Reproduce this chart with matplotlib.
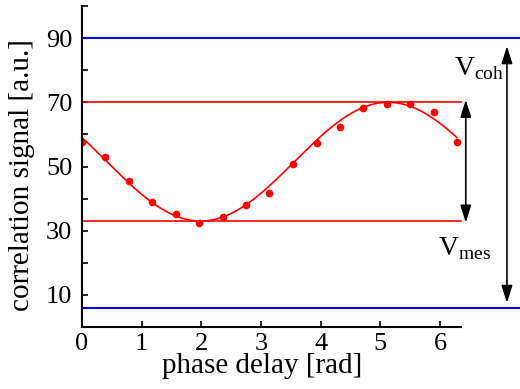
import numpy as np
import matplotlib
matplotlib.use("Agg")
import matplotlib.pyplot as plt

# data
phase = [0.0, 0.39, 0.79, 1.18, 1.57, 1.96, 2.36, 2.75, 3.14, 3.53, 3.93, 4.32, 4.71, 5.11, 5.50, 5.89, 6.28]
signal = [57.7, 52.9, 45.6, 38.8, 35.2, 32.5, 34.2, 37.9, 41.8, 50.7, 57.2, 62.4, 68.2, 69.4, 69.6, 67.1, 57.7]

# fitted sinusoid parameters
fit_offset = 51.5
fit_amp = 18.5
fit_phase = 5.13

v_max = 70
v_min = 33
v_coh_top = 90
v_coh_bot = 6

yticks = list(range(0, 101, 10))
yticklabels = ['' if (t // 10) % 2 == 0 else str(t) for t in yticks]
xticks = [0, 1, 2, 3, 4, 5, 6]

plt.rcParams['font.family'] = ['Liberation Serif', 'DejaVu Serif']
plt.rcParams['mathtext.fontset'] = 'custom'
plt.rcParams['mathtext.rm'] = 'Liberation Serif'

fig = plt.figure(figsize=(5.2, 3.89), dpi=100)
ax = fig.add_axes([82/520, 1-327/389, (461-82)/520, (327-6)/389])
ax.set_xlim(0, 6.35)
ax.set_ylim(0, 100)

xf = np.linspace(0, 6.28, 300)
yf = fit_offset + fit_amp * np.cos(xf - fit_phase)
ax.plot(xf, yf, color='red', lw=1.2)
ax.plot(phase, signal, 'o', color='red', ms=4.5)

ax.plot([0, 6.35], [v_max, v_max], color='red', lw=1.2, clip_on=False)
ax.plot([0, 6.35], [v_min, v_min], color='red', lw=1.2, clip_on=False)
ax.plot([0, 7.4], [v_coh_top, v_coh_top], color='blue', lw=1.5, clip_on=False)
ax.plot([0, 7.4], [v_coh_bot, v_coh_bot], color='blue', lw=1.5, clip_on=False)

aprops = dict(arrowstyle='<|-|>,head_length=0.7,head_width=0.22', color='black',
              lw=1.2, shrinkA=0, shrinkB=0, mutation_scale=15)
ax.annotate('', xy=(6.43, v_max + 0.8), xytext=(6.43, v_min - 0.5), arrowprops=aprops,
            annotation_clip=False)
ax.annotate('', xy=(7.12, 87.5), xytext=(7.12, 7.5), arrowprops=aprops,
            annotation_clip=False)

ax.text(6.24, 80.5, r'V$_{\mathrm{coh}}$', fontsize=20, ha='left', va='center', clip_on=False)
ax.text(5.97, 24.5, r'V$_{\mathrm{mes}}$', fontsize=20, ha='left', va='center', clip_on=False)

for s in ['top', 'right']:
    ax.spines[s].set_visible(False)
for s in ['left', 'bottom']:
    ax.spines[s].set_linewidth(1.5)

ax.set_yticks(yticks)
ax.set_yticklabels(yticklabels)
ax.set_xticks(xticks)
ax.tick_params(direction='in', length=4, width=1.2, labelsize=19)
ax.tick_params(axis='y', pad=7)
ax.tick_params(axis='x', pad=4)
ax.set_xlabel('phase delay [rad]', fontsize=21)
ax.set_ylabel('correlation signal [a.u.]', fontsize=21)
ax.xaxis.set_label_coords(0.474, -0.08)
ax.yaxis.set_label_coords(-0.125, 0.473)

fig.savefig('out.png', dpi=100)
